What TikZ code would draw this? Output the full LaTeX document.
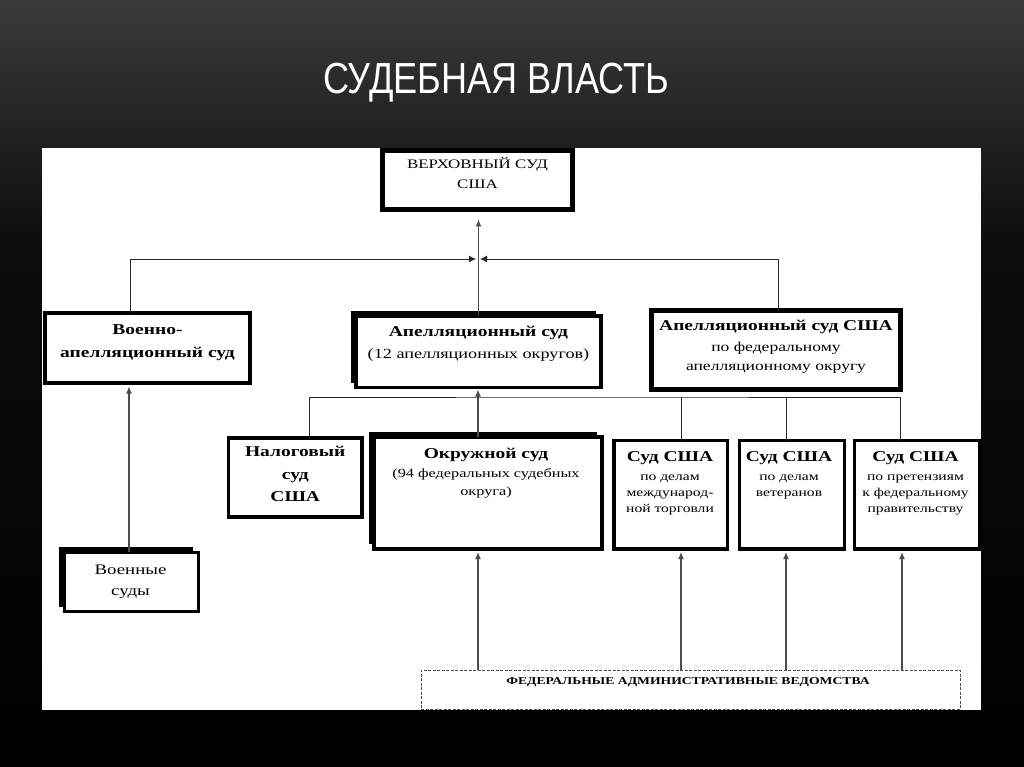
\documentclass[tikz,border=0pt]{standalone}
\usepackage{fontspec}
\setmainfont[FakeStretch=1.3]{Liberation Serif}
\newfontfamily\titlefont[FakeStretch=0.83]{Liberation Sans}
\usetikzlibrary{arrows.meta,shadows}
\newcommand\fz[2]{\fontsize{#1pt}{#2pt}\selectfont}
\definecolor{bgtop}{RGB}{58,58,58}
\definecolor{bgmid}{RGB}{12,12,12}
\tikzset{
  box/.style={draw=black, line width=3.5pt, fill=white, rectangle, inner sep=0pt, outer sep=0pt},
  shbox/.style={box, general shadow={fill=black, shadow xshift=-5pt, shadow yshift=5pt}},
  txt/.style={align=center, inner sep=0pt, outer sep=0pt, anchor=north, text=black},
  conn/.style={draw=black!70, line width=1.2pt},
  hline/.style={draw=black!85, line width=1pt},
  arr/.style={conn, -{Latex[length=7pt,width=6pt]}},
  harr/.style={hline, -{Latex[length=7pt,width=7pt]}},
}
\begin{document}
\begin{tikzpicture}[x=1pt,y=-1pt]
\useasboundingbox (0,0) rectangle (1024,767);
% background
\shade[top color=bgtop, bottom color=bgmid] (0,0) rectangle (1024,250);
\shade[top color=bgmid, bottom color=black] (0,250) rectangle (1024,767);
\node[anchor=base, text=white, inner sep=0pt, font=\titlefont\fz{43.5}{50}] (title) at (496,93.5) {СУДЕБНАЯ ВЛАСТЬ};
% panel
\fill[white] (42,148) rectangle (981,710);

% boxes
\node[box, line width=5pt, minimum width=190pt, minimum height=59pt] (verh) at (477.5,180) {};
\node[txt, font=\fz{13}{20}] (verhT) at (477.5,157) {ВЕРХОВНЫЙ СУД\\США};

\node[box, line width=4pt, minimum width=205pt, minimum height=69.5pt] (voen) at (147.5,347.75) {};
\node[txt, font=\fz{15}{23}\bfseries] (voenT) at (147.5,325) {Военно-\\апелляционный суд};

\node[shbox, minimum width=245pt, minimum height=71.5pt] (apl) at (478.5,351.75) {};
\node[txt, font=\fz{14}{22}] (aplT) at (478.5,326.5) {{\bfseries\fz{15}{22}Апелляционный суд}\\(12 апелляционных округов)};

\node[box, line width=4.5pt, minimum width=249pt, minimum height=79pt] (apus) at (776,350) {};
\node[txt, font=\fz{13.5}{19}] (apusT) at (776,320.5) {{\bfseries\fz{15}{19}Апелляционный суд США}\\[1.5pt]по федеральному\\апелляционному округу};

\node[box, minimum width=133.5pt, minimum height=79pt] (nal) at (295.25,477.5) {};
\node[txt, font=\fz{15}{22.5}\bfseries] (nalT) at (295.25,446.5) {Налоговый\\суд\\США};

\node[shbox, minimum width=228pt, minimum height=112pt] (okr) at (488,493) {};
\node[txt, font=\fz{12.5}{18}] (okrT) at (486,448.5) {{\bfseries\fz{15}{18}Окружной суд}\\[1pt](94 федеральных судебных\\округа)};

\node[box, minimum width=113.5pt, minimum height=108.5pt] (tr) at (670.75,494.75) {};
\node[txt, font=\fz{12}{16}] (trT) at (670,452) {{\bfseries\fz{15}{16}Суд США}\\[2.5pt]по делам\\международ-\\ной торговли};

\node[box, minimum width=105pt, minimum height=108.5pt] (vet) at (792,494.75) {};
\node[txt, font=\fz{12}{16}] (vetT) at (789,452) {{\bfseries\fz{15}{16}Суд США}\\[2.5pt]по делам\\ветеранов};

\node[box, minimum width=125pt, minimum height=108.5pt] (cl) at (917,494.75) {};
\node[txt, font=\fz{12}{16}] (clT) at (915.5,452) {{\bfseries\fz{15}{16}Суд США}\\[2.5pt]по претензиям\\к федеральному\\правительству};

\node[shbox, line width=3pt, minimum width=134pt, minimum height=59.5pt] (vs) at (131,581.75) {};
\node[txt, font=\fz{14.5}{21}] (vsT) at (130.5,565) {Военные\\суды};

\node[draw=black!70, dash pattern=on 3pt off 1.5pt, line width=1pt, fill=white, rectangle, minimum width=539pt, minimum height=39pt, inner sep=0pt, outer sep=0pt] (fed) at (690.5,689.5) {};
\node[txt, font=\fz{10.5}{12}\bfseries] (fedT) at (688,677.5) {ФЕДЕРАЛЬНЫЕ АДМИНИСТРАТИВНЫЕ ВЕДОМСТВА};

% connectors
\coordinate (hubL) at (476,259);
\coordinate (hubR) at (480,259);
\coordinate (hub2) at (600,397);
\draw[arr, shorten >=10pt] (apl.north) -- (apl.north |- verh.south);
\draw[harr] ([xshift=-17pt]voen.north) |- (hubL);
\draw[harr] ([xshift=2pt]apus.north) |- (hubR);
\draw[arr, shorten >=4pt] ([xshift=-2pt]vs.north) -- ([xshift=-2pt]vs.north |- voen.south);
\draw[hline] ([xshift=13.75pt]nal.north) |- (hub2) -| ([xshift=-17pt]cl.north);
\draw[hline] ([xshift=10.25pt]tr.north) -- ([xshift=10.25pt]tr.north |- hub2);
\draw[hline] ([xshift=-5.5pt]vet.north) -- ([xshift=-5.5pt]vet.north |- hub2);
\draw[arr, shorten >=2pt] ([xshift=-10pt]okr.north) -- ([xshift=-10pt]okr.north |- apl.south);
\draw[arr, shorten >=3pt] ([xshift=-10pt]okr.south |- fed.north) -- ([xshift=-10pt]okr.south);
\draw[arr, shorten >=3pt] ([xshift=10.25pt]tr.south |- fed.north) -- ([xshift=10.25pt]tr.south);
\draw[arr, shorten >=3pt] ([xshift=-6pt]vet.south |- fed.north) -- ([xshift=-6pt]vet.south);
\draw[arr, shorten >=3pt] ([xshift=-15pt]cl.south |- fed.north) -- ([xshift=-15pt]cl.south);
\end{tikzpicture}
\end{document}
